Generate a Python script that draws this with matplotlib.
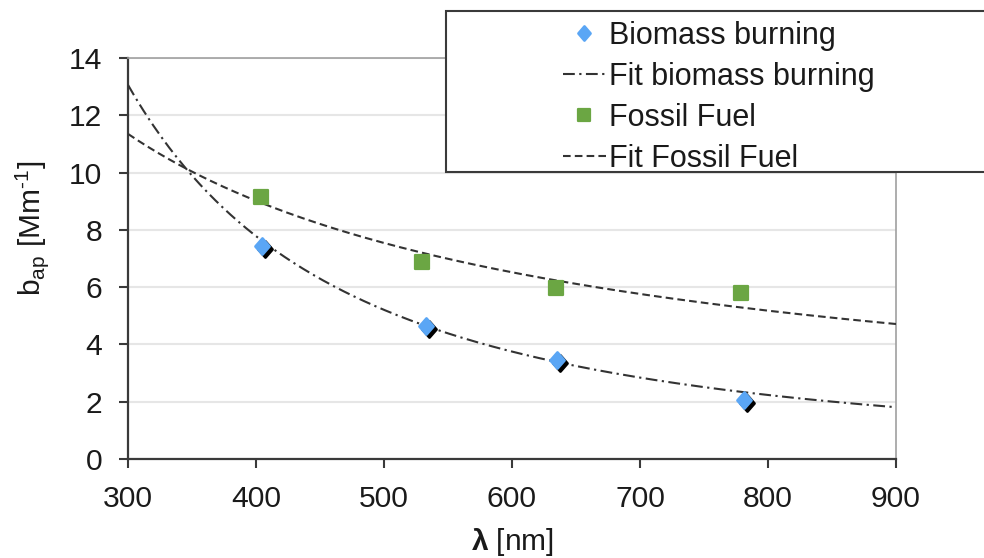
import numpy as np
import matplotlib
matplotlib.use("Agg")
import matplotlib.pyplot as plt
from matplotlib.markers import MarkerStyle
from matplotlib.transforms import ScaledTranslation, Affine2D
from matplotlib.patches import Rectangle

# ---------------- data ----------------
biomass_wavelength = [405, 533, 635, 781]
biomass_bap = [7.44, 4.63, 3.45, 2.06]
fossil_wavelength = [404, 530, 634, 779]
fossil_bap = [9.16, 6.89, 5.96, 5.79]

# power-law fits: b = b300 * (lambda / 300) ** (-AAE)
fit_range = [300, 900]
fit_biomass_b300 = 13.06
fit_biomass_aae = 1.80
fit_fossil_b300 = 11.35
fit_fossil_aae = 0.80

x_ticks = [300, 400, 500, 600, 700, 800, 900]
y_ticks = [0, 2, 4, 6, 8, 10, 12, 14]
series_labels = ["Biomass burning", "Fit biomass burning", "Fossil Fuel", "Fit Fossil Fuel"]
x_label = r"$\mathbf{\lambda}$ [nm]"
y_label = r"b$_\mathrm{ap}$ [Mm$^{\text{-1}}$]"

# ---------------- style ----------------
plt.rcParams["font.family"] = ["Liberation Sans", "DejaVu Sans"]
plt.rcParams["mathtext.fontset"] = "custom"
plt.rcParams["mathtext.rm"] = "Liberation Sans"
plt.rcParams["mathtext.it"] = "Liberation Sans:italic"
plt.rcParams["mathtext.bf"] = "Liberation Sans:bold"
plt.rcParams["lines.scale_dashes"] = False

BLUE = "#5AA6F5"
GREEN = "#6BA643"
LINE = "#333333"
DARK = "#3a3a3a"

fig = plt.figure(figsize=(9.84, 5.58), dpi=100)
ax = fig.add_axes([128 / 984, 99 / 558, 768 / 984, 401 / 558])

lam = np.linspace(fit_range[0], fit_range[1], 300)
fit_bio = fit_biomass_b300 * (lam / 300.0) ** (-fit_biomass_aae)
fit_fos = fit_fossil_b300 * (lam / 300.0) ** (-fit_fossil_aae)

ax.plot(lam, fit_bio, color=LINE, lw=1.5, dashes=[8.5, 3.2, 1.6, 3.2],
        label=series_labels[1], zorder=3)
ax.plot(lam, fit_fos, color=LINE, lw=1.5, dashes=[5.5, 3.0],
        label=series_labels[3], zorder=3)

diamond = MarkerStyle("D", joinstyle="round",
                      transform=Affine2D().scale(0.92, 1.05))
square = MarkerStyle("s", joinstyle="round")

shadow = ax.transData + ScaledTranslation(3 / 100, -3 / 100, fig.dpi_scale_trans)
ax.plot(biomass_wavelength, biomass_bap, ls="none", marker=diamond, ms=8.2,
        mfc="black", mec="black", mew=2.0, transform=shadow, zorder=4)
ax.plot(biomass_wavelength, biomass_bap, ls="none", marker=diamond, ms=8.2,
        mfc=BLUE, mec=BLUE, mew=2.0, label=series_labels[0], zorder=5)
ax.plot(fossil_wavelength, fossil_bap, ls="none", marker=square, ms=9.6,
        mfc=GREEN, mec=GREEN, mew=1.6, label=series_labels[2], zorder=5)

ax.set_xlim(300, 900)
ax.set_ylim(0, 14)
ax.set_xticks(x_ticks)
ax.set_yticks(y_ticks)
ax.yaxis.grid(True, color="#e6e6e6", lw=1.5)
ax.set_axisbelow(True)

for s in ["left", "bottom"]:
    ax.spines[s].set_color(DARK)
    ax.spines[s].set_linewidth(1.6)
for s in ["top", "right"]:
    ax.spines[s].set_color("#a0a0a0")
    ax.spines[s].set_linewidth(1.2)

ax.tick_params(axis="both", direction="out", length=6.5, width=1.5,
               color=DARK, labelsize=21.6, labelcolor="#1a1a1a")
ax.tick_params(axis="y", pad=12)
ax.tick_params(axis="x", pad=12.5)

ax.set_xlabel(x_label, fontsize=21.5, color="#1a1a1a")
ax.set_ylabel(y_label, fontsize=21.5, color="#1a1a1a")
ax.yaxis.set_label_coords(-0.100, 0.576)
ax.xaxis.set_label_coords(0.5, -0.168)

# legend frame (extends beyond the figure edge as in the reference)
frame = Rectangle((445.5 / 984, 1 - 172 / 558), 700 / 984, 161 / 558,
                  transform=fig.transFigure, facecolor="white",
                  edgecolor=DARK, lw=1.5, zorder=10, clip_on=False)
fig.patches.append(frame)

h, l = ax.get_legend_handles_labels()
order = [l.index(s) for s in series_labels]
leg = fig.legend([h[i] for i in order], [l[i] for i in order],
                 loc="upper left", bbox_to_anchor=(563 / 984, 1 - 21 / 558),
                 frameon=False, fontsize=22, borderpad=0, borderaxespad=0,
                 handlelength=1.4, handletextpad=0.12, labelspacing=0.355,
                 markerscale=0.85)
leg.set_zorder(11)
for t in leg.get_texts():
    t.set_color("#1a1a1a")

fig.savefig("out.png", dpi=100)
